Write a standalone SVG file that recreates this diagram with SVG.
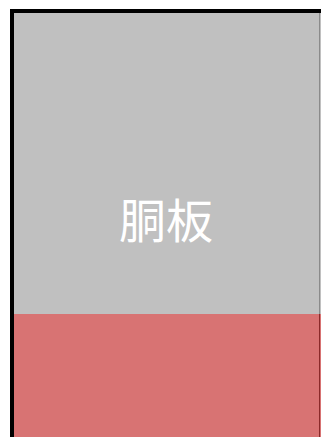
<svg xmlns="http://www.w3.org/2000/svg" width="321" height="437" viewBox="0 0 321 437">
<style>
.lbl{font-family:"Noto Sans CJK JP","Noto Sans CJK SC",sans-serif;font-size:47px;fill:#ffffff;text-anchor:middle;dominant-baseline:central}
</style>
<rect width="321" height="437" fill="#ffffff"/>
<g id="body">
<rect x="12" y="11" width="310" height="303" fill="#c0c0c0"/>
<rect x="12" y="314" width="310" height="130" fill="#d87373"/>
<line x1="319.5" y1="13" x2="319.5" y2="314" stroke="#8a8a8a" stroke-width="1"/>
<line x1="319.5" y1="314" x2="319.5" y2="437" stroke="#8a2a2a" stroke-width="1"/>
<path d="M12 440 V11 H322" fill="none" stroke="#000000" stroke-width="4"/>
<text class="lbl" x="166" y="217">胴板</text>
</g>
</svg>
